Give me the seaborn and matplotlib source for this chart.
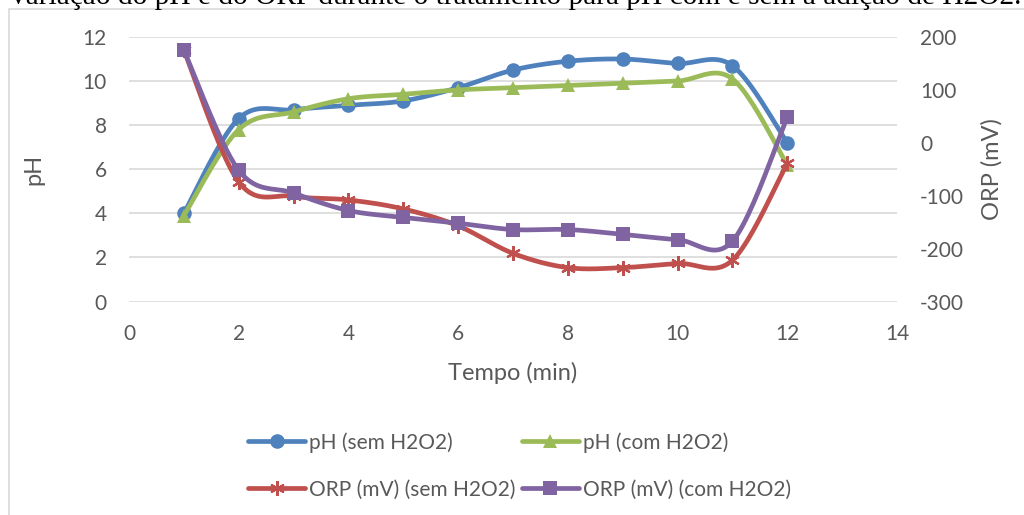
import numpy as np
import matplotlib
matplotlib.use("Agg")
import matplotlib.pyplot as plt
import seaborn as sns
from matplotlib.lines import Line2D
from matplotlib.patches import Rectangle

# ---------------- data ----------------
tempo = [1, 2, 3, 4, 5, 6, 7, 8, 9, 10, 11, 12]
ph_sem = [4.0, 8.3, 8.7, 8.9, 9.1, 9.7, 10.5, 10.9, 11.0, 10.8, 10.7, 7.2]
ph_com = [3.9, 7.8, 8.6, 9.2, 9.4, 9.6, 9.7, 9.8, 9.9, 10.0, 10.1, 6.2]
orp_sem = [175, -74, -101, -108, -125, -157, -209, -236, -236, -228, -222, -39]
orp_com = [175, -52, -95, -128, -141, -152, -164, -164, -173, -183, -186, 48]
labels = ["pH (sem H2O2)", "pH (com H2O2)", "ORP (mV) (sem H2O2)", "ORP (mV) (com H2O2)"]
title = "Figura 2: Variação do pH e do ORP durante o tratamento para pH com e sem a adição de H2O2."

C_BLUE, C_GREEN, C_RED, C_PURPLE = "#4F81BD", "#9BBB59", "#C0504D", "#8064A2"
GRID = "#D9D9D9"
TXT = "#595959"


def smooth(x, y, n=24):
    """Excel-like smoothed line (Catmull-Rom Bezier) through the points."""
    P = np.column_stack([x, y]).astype(float)
    out = [P[0]]
    t = np.linspace(0, 1, n)[1:]
    for i in range(len(P) - 1):
        p0 = P[i - 1] if i > 0 else P[i]
        p3 = P[i + 2] if i + 2 < len(P) else P[i + 1]
        c1 = P[i] + (P[i + 1] - p0) / 6
        c2 = P[i + 1] - (p3 - P[i]) / 6
        for tt in t:
            b = ((1 - tt) ** 3) * P[i] + 3 * ((1 - tt) ** 2) * tt * c1 \
                + 3 * (1 - tt) * tt ** 2 * c2 + tt ** 3 * P[i + 1]
            out.append(b)
    out = np.array(out)
    return out[:, 0], out[:, 1]


sns.set_theme(style="white")
plt.rcParams["font.family"] = ["Lato", "DejaVu Sans"]
plt.rcParams["axes.unicode_minus"] = False

W, H = 1024, 515
fig = plt.figure(figsize=(W / 100, H / 100), dpi=100)
L, R, T, B = 129, 897, 37, 301.5
ax = fig.add_axes([L / W, 1 - B / H, (R - L) / W, (B - T) / H])
ax2 = ax.twinx()

LW = 3.4
asterisk = (6, 2, 0)
series = [
    (ax, ph_sem, C_BLUE, "o", 10.5),
    (ax, ph_com, C_GREEN, "^", 10.5),
    (ax2, orp_sem, C_RED, asterisk, 10.5),
    (ax2, orp_com, C_PURPLE, "s", 10.5),
]
handles = []
for (a, vals, col, mk, ms), lab in zip(series, labels):
    xs, ys = smooth(tempo, vals)
    sns.lineplot(x=xs, y=ys, ax=a, color=col, lw=LW, sort=False,
                 estimator=None, legend=False, solid_capstyle="round")
    a.plot(tempo, vals, ls="none", marker=mk, ms=ms, color=col,
           mec=col, mew=1.6 if mk == asterisk else 0)
    handles.append(Line2D([0], [0], color=col, lw=LW, marker=mk, ms=ms,
                          mec=col, mew=1.6 if mk == asterisk else 0,
                          solid_capstyle="round"))

ax.set_xlim(0, 14)
ax.set_ylim(0, 12)
ax2.set_ylim(-300, 200)
ax.set_xticks(range(0, 15, 2))
ax.set_yticks(range(0, 13, 2))
ax2.set_yticks(range(-300, 201, 100))
ax.grid(axis="y", color=GRID, lw=1.2)
ax.grid(axis="x", visible=False)
ax2.grid(False)
for a in (ax, ax2):
    for s in a.spines.values():
        s.set_visible(False)
    a.tick_params(length=0, labelsize=15, labelcolor=TXT)
ax.tick_params(axis="y", pad=16)
ax2.tick_params(axis="y", pad=16.5)
ax.tick_params(axis="x", pad=16)
ax.set_xlabel("Tempo (min)", fontsize=17, color=TXT, labelpad=13)
ax.set_ylabel("pH", fontsize=17, color=TXT)
ax2.set_ylabel("ORP (mV)", fontsize=17, color=TXT)
ax.yaxis.set_label_coords(-(129 - 44) / (R - L), 0.5)
ax2.yaxis.set_label_coords(1 + (981 - 897) / (R - L), 0.5)

order = [0, 2, 1, 3]
leg = fig.legend([handles[i] for i in order], [labels[i] for i in order],
                 ncol=2, loc="upper left", bbox_to_anchor=(248 / W, 1 - 432 / H),
                 frameon=False, fontsize=15, handlelength=2.74, handletextpad=0.19,
                 columnspacing=0.29, labelspacing=1.3, borderpad=0, borderaxespad=0)
for t in leg.get_texts():
    t.set_color(TXT)

# chart border
fig.patches.append(Rectangle((9 / W, -0.1), 1.2, 1.1 - 9 / H, transform=fig.transFigure,
                             fill=False, edgecolor=GRID, lw=1.2))

# cut-off caption at the very top
tt = fig.text(1021 / W, 1 - 4.5 / H, title, ha="right", va="baseline",
              family=["Liberation Serif", "DejaVu Serif"], fontsize=18, color="black")
fig.canvas.draw()
rend = fig.canvas.get_renderer()
sub = fig.text(0, 0, title.split(": ", 1)[1], family=["Liberation Serif", "DejaVu Serif"],
               fontsize=18)
wbox = sub.get_window_extent(rend).width
sub.remove()
target = 1021 - 8
tt.set_fontsize(18 * target / wbox)

fig.savefig("out.png", dpi=100)
